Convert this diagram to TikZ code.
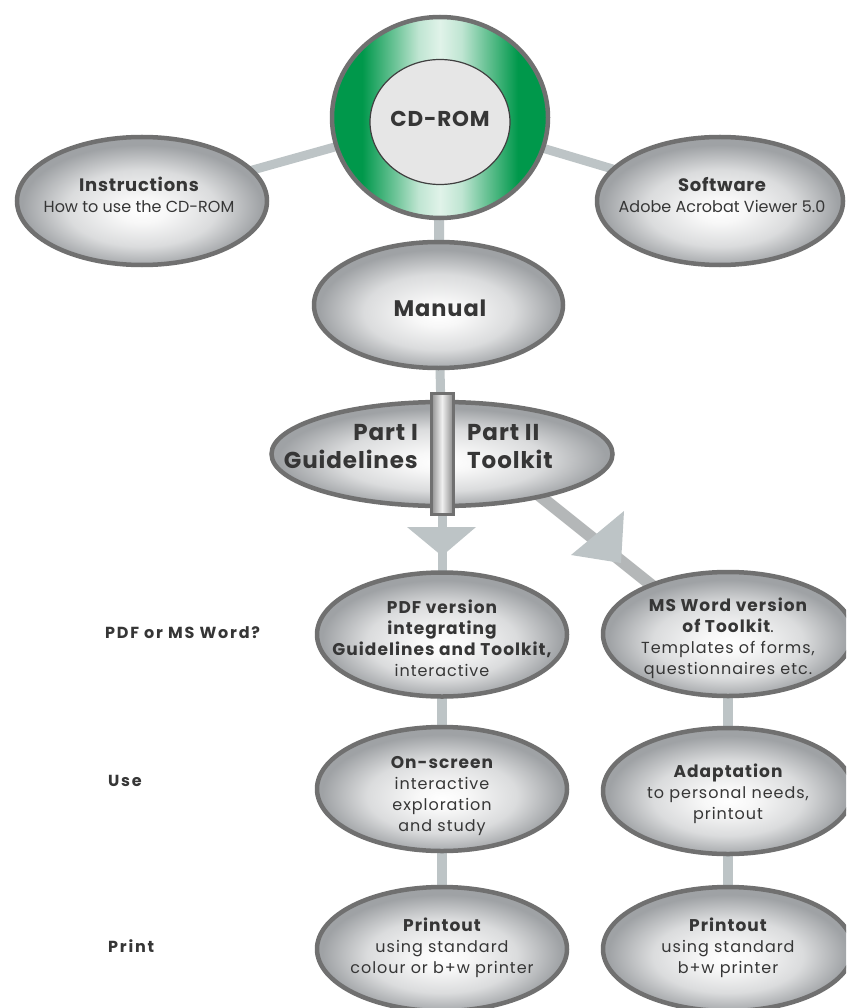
\documentclass[tikz,border=0pt]{standalone}
\usepackage{fontspec}
\setmainfont{Poppins}[LetterSpace=6]
\newfontfamily\topfont{Poppins}
\newfontfamily\topbfont{Poppins}[LetterSpace=4]
\newfontfamily\sidefont{Poppins}[LetterSpace=11]
\newfontfamily\bigfont{Poppins}[LetterSpace=4]
\usetikzlibrary{shapes.geometric,backgrounds,calc}
\definecolor{bord}{HTML}{707070}
\definecolor{connc}{HTML}{BDC4C6}
\definecolor{conndiag}{HTML}{B4B7B8}
\definecolor{txt}{HTML}{363636}
\definecolor{cdg}{HTML}{00984B}
\definecolor{edgegray}{HTML}{9FA2A5}
\definecolor{cdinner}{HTML}{E6E6E6}
\newcommand\bt[1]{{\bfseries\fontsize{17}{21}\selectfont #1}}
\pgfdeclareradialshading{grayell}{\pgfpoint{0bp}{-4bp}}{color(0bp)=(white); color(5bp)=(white!97!black); color(15bp)=(edgegray!38!white); color(24bp)=(edgegray); color(50bp)=(edgegray)}
\pgfdeclarehorizontalshading{greenh}{100bp}{color(0bp)=(cdg); color(32bp)=(cdg); color(40bp)=(cdg!55!white); color(45bp)=(cdg!25!white); color(50bp)=(cdg!12!white); color(55bp)=(cdg!25!white); color(60bp)=(cdg!55!white); color(68bp)=(cdg); color(100bp)=(cdg)}
\pgfdeclarehorizontalshading{barsh}{100bp}{color(0bp)=(black!45); color(25bp)=(black!45); color(50bp)=(white!94!black); color(75bp)=(black!45); color(100bp)=(black!45)}
\pgfdeclarelayer{bottom}
\pgfsetlayers{bottom,background,main}
\begin{document}
\begin{tikzpicture}[x=1pt,y=-1pt,
  bub/.style={ellipse, draw=bord, line width=4.5pt, shading=grayell, inner sep=0pt},
  lbl/.style={text=txt, align=center, inner sep=0pt, font=\fontsize{16}{21}\selectfont},
  toplbl/.style={text=txt, align=center, inner sep=0pt, font=\topfont\fontsize{16}{21}\selectfont},
  sidelbl/.style={text=txt, anchor=west, inner sep=0pt, font=\sidefont\bfseries\fontsize{16}{18}\selectfont},
  conn/.style={draw=connc, line width=9pt},
  diagconn/.style={draw=conndiag, line width=12pt},
  head/.style={fill=connc},
]
\useasboundingbox (0,0) rectangle (846,1008);
\clip (0,0) rectangle (846,1008);
\begin{pgfonlayer}{bottom}
\fill[white] (0,0) rectangle (846,1008);
\end{pgfonlayer}

% CD-ROM
\node[ellipse, draw=bord, line width=4.5pt, shading=greenh, minimum width=216pt, minimum height=201pt, inner sep=0pt] (cd) at (440,117.5) {};
\node[ellipse, draw=black!75, line width=1.2pt, fill=cdinner, minimum width=140pt, minimum height=125pt, inner sep=0pt] (cdin) at (440,122) {};
\node[lbl, font=\bigfont\bfseries\fontsize{21.5}{24}\selectfont] (cdt) at (440,119) {CD-ROM};

% Instructions / Software
\node[bub, minimum width=250pt, minimum height=128pt] (instr) at (142,201) {};
\node[toplbl] (instrt) at (139,195) {{\topbfont\bfseries\fontsize{18}{21}\selectfont Instructions}\\How to use the CD-ROM};
\node[bub, minimum width=246pt, minimum height=128pt] (soft) at (720,201) {};
\node[toplbl] (softt) at (722,195) {{\topbfont\bfseries\fontsize{18}{21}\selectfont Software}\\Adobe Acrobat Viewer 5.0};

% Manual
\node[bub, minimum width=249pt, minimum height=126pt] (man) at (438.5,305) {};
\node[lbl, font=\bigfont\bfseries\fontsize{22.5}{24}\selectfont] (mant) at (440,308) {Manual};

% Part I / II
\node[bub, minimum width=341pt, minimum height=104pt] (part) at (442,454) {};
\node[rectangle, draw=bord, line width=3pt, shading=barsh, minimum width=22pt, minimum height=121pt, inner sep=0pt] (bar) at (442,453.5) {};
\node[lbl, align=right, anchor=east, font=\bigfont\bfseries\fontsize{23}{28}\selectfont] (p1) at (418,447) {Part I\\Guidelines};
\node[lbl, align=left, anchor=west, font=\bigfont\bfseries\fontsize{23}{28}\selectfont] (p2) at (467,447) {Part II\\Toolkit};

% second row
\node[bub, minimum width=250pt, minimum height=124pt] (pdf) at (442,634.5) {};
\node[lbl] (pdft) at (442,638) {\bt{PDF version}\\\bt{integrating}\\\bt{Guidelines and Toolkit,}\\interactive};
\node[bub, minimum width=250pt, minimum height=124pt] (msw) at (728,634) {};
\node[lbl] (mswt) at (728,638) {\bt{MS Word version}\\\bt{of Toolkit}.\\Templates of forms,\\questionnaires etc.};

% third row
\node[bub, minimum width=250pt, minimum height=124pt] (onscr) at (442,789) {};
\node[lbl] (onscrt) at (442,796) {\bt{On-screen}\\interactive\\exploration\\and study};
\node[bub, minimum width=250pt, minimum height=126pt] (adapt) at (728,791) {};
\node[lbl] (adaptt) at (728,794) {\bt{Adaptation}\\to personal needs,\\printout};

% fourth row
\node[bub, minimum width=250pt, minimum height=124pt] (prl) at (442,949) {};
\node[lbl] (prlt) at (442,948) {\bt{Printout}\\using standard\\colour or b+w printer};
\node[bub, minimum width=250pt, minimum height=124pt] (prr) at (728,949) {};
\node[lbl] (prrt) at (728,948) {\bt{Printout}\\using standard\\b+w printer};

% side labels
\node[sidelbl] (s1) at (105,633) {PDF or MS Word?};
\node[sidelbl] (s2) at (108,781) {Use};
\node[sidelbl] (s3) at (108,946) {Print};

% connectors
\begin{pgfonlayer}{background}
\draw[conn] (cd.center) -- (instr.center);
\draw[conn] (cd.center) -- (soft.center);
\draw[conn, line width=10pt] (cd.center) -- (man.center);
\draw[conn] (man.center) -- (bar.center);
\draw[conn] (bar.center) -- (pdf.center);
\draw[diagconn] ($(part.center)+(58,10)$) -- ($(msw.center)+(-28,-10)$);
\draw[conn, line width=10pt] (pdf.center) -- (onscr.center);
\draw[conn, line width=10pt] (onscr.center) -- (prl.center);
\draw[conn, line width=10pt] (msw.center) -- (adapt.center);
\draw[conn, line width=10pt] (adapt.center) -- (prr.center);
\fill[head] (407,527) -- (476,527) -- (442,556) -- cycle;
\fill[head] (624,511) -- (571,555) -- (621,563) -- cycle;
\end{pgfonlayer}
\end{tikzpicture}
\end{document}
